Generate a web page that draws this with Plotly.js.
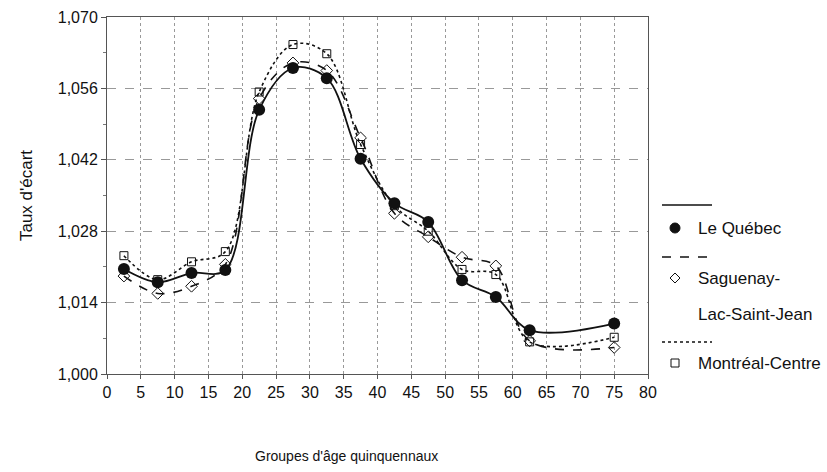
<!DOCTYPE html>
<html>
<head>
<meta charset="utf-8">
<script src="https://cdn.plot.ly/plotly-3.0.1.min.js"></script>
<style>
  html, body { margin: 0; padding: 0; background: #fff; }
  #chart { width: 827px; height: 472px; }
</style>
</head>
<body>
<div id="chart"></div>
<script>
// Mid-points of the five-year age groups (last group is open-ended, plotted at 75)
const ages = [2.5, 7.5, 12.5, 17.5, 22.5, 27.5, 32.5, 37.5, 42.5, 47.5, 52.5, 57.5, 62.5, 75];

// Taux d'écart by region
const quebec   = [1.0206, 1.0180, 1.0198, 1.0204, 1.0518, 1.0600, 1.0580, 1.0422, 1.0335, 1.0298, 1.0184, 1.0151, 1.0086, 1.0099];
const saguenay = [1.0192, 1.0158, 1.0172, 1.0215, 1.0540, 1.0610, 1.0595, 1.0463, 1.0315, 1.0269, 1.0229, 1.0212, 1.0065, 1.0052];
const montreal = [1.0232, 1.0185, 1.0220, 1.0240, 1.0553, 1.0646, 1.0628, 1.0450, 1.0330, 1.0280, 1.0205, 1.0195, 1.0063, 1.0072];

const seriesNames = ["Le Québec", "Saguenay-<br>Lac-Saint-Jean", "Montréal-Centre"];

// Axis ticks
const xTickVals = [0, 5, 10, 15, 20, 25, 30, 35, 40, 45, 50, 55, 60, 65, 70, 75, 80];
const yTickVals = [1.000, 1.014, 1.028, 1.042, 1.056, 1.070];
const yTickText = ["1,000", "1,014", "1,028", "1,042", "1,056", "1,070"];

const FONT = "Liberation Sans, Arial, sans-serif";
const INK = "#111";

const traces = [
  {
    x: ages, y: montreal, name: seriesNames[2], mode: "lines+markers",
    line: { color: INK, width: 1.6, dash: "dot", shape: "spline", smoothing: 1 },
    marker: { symbol: "square-open", size: 8, color: INK, line: { width: 1 } }
  },
  {
    x: ages, y: saguenay, name: seriesNames[1], mode: "lines+markers",
    line: { color: INK, width: 1.6, dash: "dash", shape: "spline", smoothing: 1 },
    marker: { symbol: "diamond-open", size: 9, color: INK, line: { width: 1 } }
  },
  {
    x: ages, y: quebec, name: seriesNames[0], mode: "lines+markers",
    line: { color: INK, width: 1.8, shape: "spline", smoothing: 1 },
    marker: { symbol: "circle", size: 12, color: INK }
  }
];

// Hand-drawn legend, in paper coordinates to the right of the plot
const L = 107, R = 648, T = 17, B = 374;           // plot box in pixels
const px = v => (v - L) / (R - L);
const py = v => (B - v) / (B - T);

const shapes = [
  { type: "line", xref: "paper", yref: "paper", x0: px(662), x1: px(712), y0: py(205), y1: py(205),
    line: { color: INK, width: 1.6 } },
  { type: "circle", xref: "paper", yref: "paper", xsizemode: "pixel", ysizemode: "pixel",
    xanchor: px(675), yanchor: py(228), x0: -5, x1: 5, y0: -5, y1: 5,
    fillcolor: INK, line: { color: INK, width: 1 } },
  { type: "line", xref: "paper", yref: "paper", x0: px(662), x1: px(712), y0: py(257), y1: py(257),
    line: { color: INK, width: 1.6, dash: "dash" } },
  { type: "path", xref: "paper", yref: "paper", xsizemode: "pixel", ysizemode: "pixel",
    xanchor: px(675), yanchor: py(278), path: "M -5 0 L 0 5 L 5 0 L 0 -5 Z",
    fillcolor: "#fff", line: { color: INK, width: 1 } },
  { type: "line", xref: "paper", yref: "paper", x0: px(662), x1: px(712), y0: py(342), y1: py(342),
    line: { color: INK, width: 1.6, dash: "dot" } },
  { type: "rect", xref: "paper", yref: "paper", xsizemode: "pixel", ysizemode: "pixel",
    xanchor: px(675), yanchor: py(363), x0: -4, x1: 4, y0: -4, y1: 4,
    fillcolor: "#fff", line: { color: INK, width: 1 } }
];

const legendText = (text, y) => ({
  xref: "paper", yref: "paper", x: px(696), y: py(y), xanchor: "left", yanchor: "middle",
  text: text, showarrow: false, font: { family: FONT, size: 17, color: INK }
});

const annotations = [
  legendText(seriesNames[0], 228),
  legendText("Saguenay-", 278),
  legendText("Lac-Saint-Jean", 314),
  legendText(seriesNames[2], 363),
  {
    xref: "paper", yref: "paper", x: px(346), y: py(456), xanchor: "center", yanchor: "middle",
    text: "Groupes d'âge quinquennaux", showarrow: false, font: { family: FONT, size: 14, color: INK }
  }
];

const layout = {
  width: 827, height: 472,
  margin: { l: L, r: 827 - R, t: T, b: 472 - B, pad: 0 },
  paper_bgcolor: "#fff", plot_bgcolor: "#fff",
  showlegend: false,
  font: { family: FONT, size: 17, color: INK },
  xaxis: {
    range: [0, 80], tickmode: "array", tickvals: xTickVals,
    ticks: "outside", ticklen: 4, tickcolor: "#555",
    showline: true, linecolor: "#555", linewidth: 1, mirror: true,
    showgrid: true, gridcolor: "#999", gridwidth: 1, griddash: "dot",
    zeroline: false, tickfont: { family: FONT, size: 16, color: INK }
  },
  yaxis: {
    range: [1.000, 1.070], tickmode: "array", tickvals: yTickVals, ticktext: yTickText,
    ticks: "outside", ticklen: 5, tickcolor: "#555",
    minor: { tickmode: "linear", tick0: 1.007, dtick: 0.014, ticks: "outside", ticklen: 3, tickcolor: "#777", showgrid: false },
    showline: true, linecolor: "#555", linewidth: 1, mirror: true,
    showgrid: true, gridcolor: "#999", gridwidth: 1, griddash: "dash",
    zeroline: false, tickfont: { family: FONT, size: 16, color: INK },
    title: { text: "Taux d'écart", font: { family: FONT, size: 17, color: INK }, standoff: 20 }
  },
  shapes: shapes,
  annotations: annotations
};

Plotly.newPlot("chart", traces, layout, { staticPlot: true, displayModeBar: false });
</script>
</body>
</html>
